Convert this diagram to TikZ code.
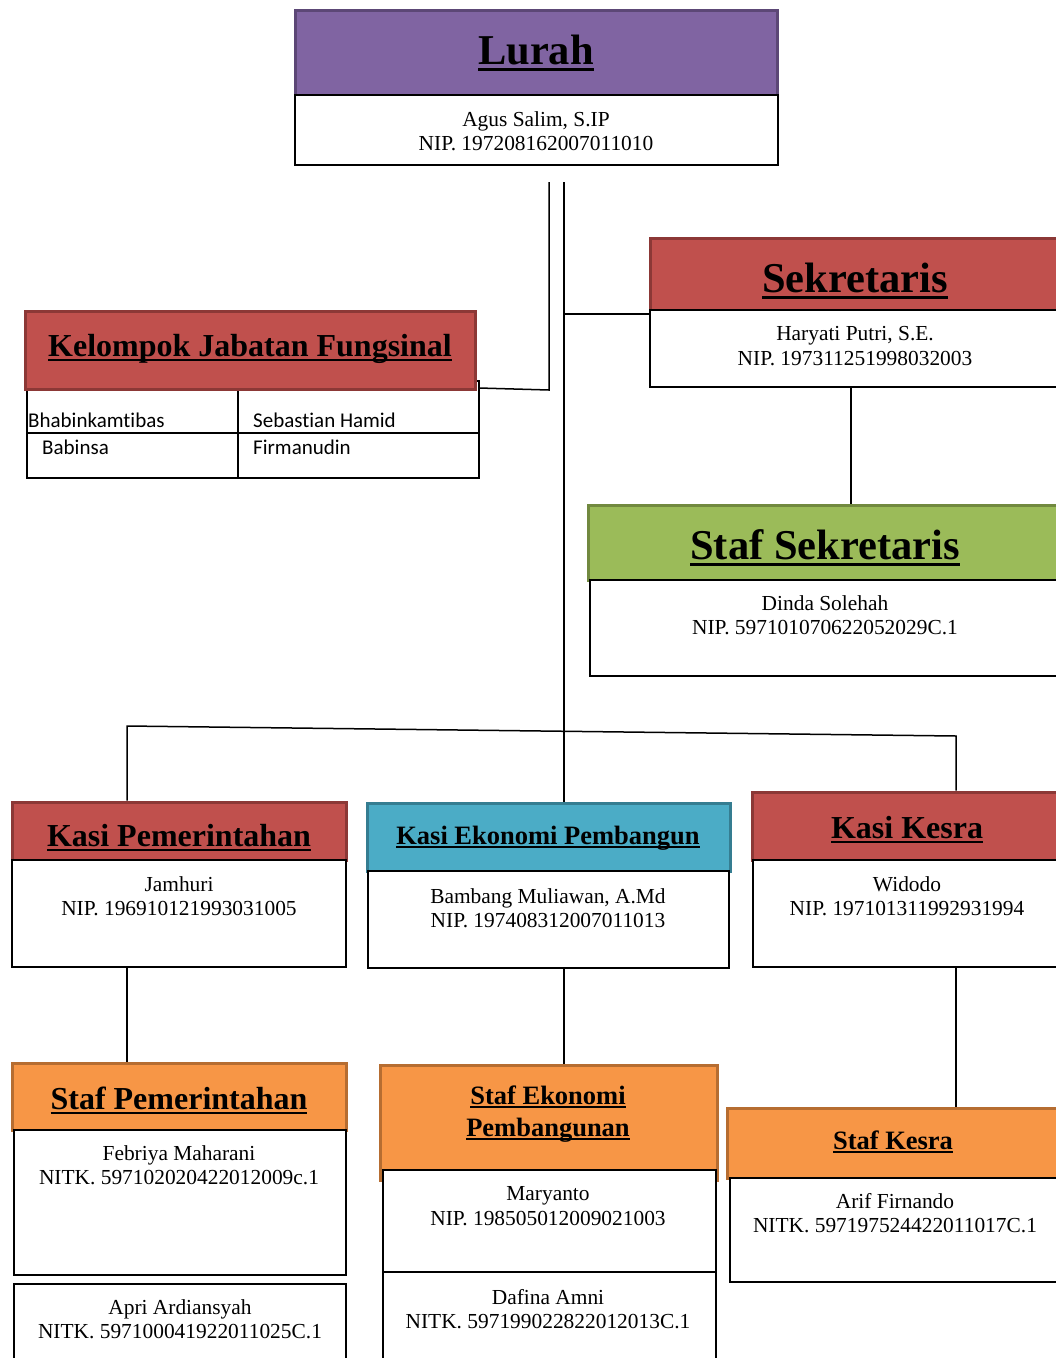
\documentclass[tikz,border=0pt]{standalone}
\usepackage{fontspec}
\setmainfont{Liberation Serif}
\newfontfamily\tabsans[Ligatures=NoCommon]{Carlito}
\definecolor{purF}{HTML}{8064A2}\definecolor{purD}{HTML}{5C4776}
\definecolor{redF}{HTML}{C0504D}\definecolor{redD}{HTML}{8C3836}
\definecolor{grnF}{HTML}{9BBB59}\definecolor{grnD}{HTML}{71893F}
\definecolor{bluF}{HTML}{4BACC6}\definecolor{bluD}{HTML}{357D91}
\definecolor{orgF}{HTML}{F79646}\definecolor{orgD}{HTML}{B66D31}
\newcommand\tul[1]{\setbox0=\hbox{#1}\rlap{\copy0}\rule[-0.16em]{\wd0}{0.075em}}
\newcommand\bx[6]{\node[#2, minimum width={#5-#3}, minimum height={#6-#4}] (#1) at ({(#3+#5)/2},{(#4+#6)/2}) {};}
\tikzset{
  hdr/.style={draw=#1D, fill=#1F, line width=3pt, inner sep=0pt, rectangle},
  bodybox/.style={draw=black, fill=white, line width=1.5pt, inner sep=0pt, rectangle},
  ttlA/.style={anchor=base, inner sep=0pt, font=\fontsize{42.5}{44}\selectfont\bfseries},
  ttlB/.style={anchor=base, inner sep=0pt, font=\fontsize{32}{34}\selectfont\bfseries},
  ttlC/.style={anchor=base, inner sep=0pt, font=\fontsize{26.5}{32}\selectfont\bfseries},
  btxt/.style={anchor=center, inner sep=0pt, align=center, font=\fontsize{21.4}{24.5}\selectfont},
  stxt/.style={anchor=base west, inner sep=0pt, font=\tabsans\fontsize{21}{24}\selectfont},
  conn/.style={line width=1.5pt, draw=black},
}
\begin{document}
\begin{tikzpicture}[x=1pt,y=-1pt]
\useasboundingbox (0,0) rectangle (1056,1358);
\clip (0,0) rectangle (1056,1358);
% Lurah
\bx{lurh}{hdr=pur}{295}{10}{777}{95}
\bx{lurb}{bodybox}{295}{95}{778}{165}
\node[ttlA] (lurt) at (536,64) {\tul{Lurah}};
\node[btxt] (lurx) at (536,131) {Agus Salim, S.IP\\NIP. 197208162007011010};
% Kelompok Jabatan Fungsional table
\node[draw=black, line width=1.5pt, inner sep=0pt, minimum width=452, minimum height=97] (kjft) at (253,429.5) {};
\coordinate (kjfcol) at (238,389);
\draw[conn] (kjfcol) -- (kjfcol |- kjft.south);
\draw[conn] (kjft.west |- 0,433) -- (kjft.east |- 0,433);
\node[stxt] (s1) at (28,427) {Bhabinkamtibas};
\node[stxt] (s2) at (42,454) {Babinsa};
\node[stxt] (s3) at (253,427) {Sebastian Hamid};
\node[stxt] (s4) at (253,454) {Firmanudin};
\bx{kjfh}{hdr=red}{25}{311}{475}{389}
\node[ttlB] (kjftt) at (250,356) {\tul{Kelompok Jabatan Fungsinal}};
% Sekretaris
\bx{sekh}{hdr=red}{650}{238}{1062}{310}
\bx{sekb}{bodybox}{650}{310}{1062}{387}
\node[ttlA] (sekt) at (855,292) {\tul{Sekretaris}};
\node[btxt] (sekx) at (855,346) {Haryati Putri, S.E.\\NIP. 197311251998032003};
% Staf Sekretaris
\bx{ssekh}{hdr=grn}{588}{505}{1062}{580}
\bx{ssekb}{bodybox}{590}{580}{1062}{676}
\node[ttlA] (ssekt) at (825,559) {\tul{Staf Sekretaris}};
\node[btxt] (ssekx) at (825,615) {Dinda Solehah\\NIP. 597101070622052029C.1};
% Kasi Pemerintahan
\bx{kpemh}{hdr=red}{12}{802}{346}{860}
\bx{kpemb}{bodybox}{12}{860}{346}{967}
\node[ttlB] (kpemt) at (179,846) {\tul{Kasi Pemerintahan}};
\node[btxt] (kpemx) at (179,896) {Jamhuri\\NIP. 196910121993031005};
% Kasi Ekonomi
\bx{kekoh}{hdr=blu}{367}{803}{730}{871}
\bx{kekob}{bodybox}{368}{871}{729}{968}
\node[ttlC] (kekot) at (548,844) {\tul{Kasi Ekonomi Pembangun}};
\node[btxt] (kekox) at (548,908) {Bambang Muliawan, A.Md\\NIP. 197408312007011013};
% Kasi Kesra
\bx{kkesh}{hdr=red}{752}{792}{1062}{860}
\bx{kkesb}{bodybox}{753}{860}{1062}{967}
\node[ttlB] (kkest) at (907,838) {\tul{Kasi Kesra}};
\node[btxt] (kkesx) at (907,896) {Widodo\\NIP. 197101311992931994};
% Staf Pemerintahan
\bx{spemh}{hdr=org}{12}{1063}{346}{1130}
\bx{spemb}{bodybox}{14}{1130}{346}{1275}
\bx{spemc}{bodybox}{14}{1284}{346}{1372}
\node[ttlB] (spemt) at (179,1109) {\tul{Staf Pemerintahan}};
\node[btxt] (spemx) at (179,1165) {Febriya Maharani\\NITK. 597102020422012009c.1};
\node[btxt] (spemy) at (180,1319) {Apri Ardiansyah\\NITK. 597100041922011025C.1};
% Staf Ekonomi
\bx{sekoh}{hdr=org}{380}{1065}{717}{1180}
\bx{sekob}{bodybox}{383}{1170}{716}{1272}
\bx{sekoc}{bodybox}{383}{1272}{716}{1372}
\node[ttlC] (sekot1) at (548,1104) {\tul{Staf Ekonomi}};
\node[ttlC] (sekot2) at (548,1136) {\tul{Pembangunan}};
\node[btxt] (sekox) at (548,1206) {Maryanto\\NIP. 198505012009021003};
\node[btxt] (sekoy) at (548,1309) {Dafina Amni\\NITK. 597199022822012013C.1};
% Staf Kesra
\bx{skesh}{hdr=org}{727}{1108}{1062}{1178}
\bx{skesb}{bodybox}{730}{1178}{1062}{1282}
\node[ttlC] (skest) at (893,1149) {\tul{Staf Kesra}};
\node[btxt] (skesx) at (895,1213) {Arif Firnando\\NITK. 597197524422011017C.1};
% connectors
\coordinate (l1) at (549,182);
\coordinate (l2) at (564,182);
\coordinate (l1b) at (549,390);
\coordinate (kjfend) at (479,388);
\draw[conn] (l1) -- (l1b) -- (kjfend);
\draw[conn] (l2) -- (l2 |- kekoh.north);
\coordinate (j1) at (564,314);
\draw[conn] (j1) -- (j1 -| sekh.west);
\coordinate (sx) at (851,0);
\draw[conn] (sx |- sekb.south) -- (sx |- ssekh.north);
\coordinate (b1) at (127,726);
\coordinate (b2) at (956,736);
\draw[conn] (b1 |- kpemh.north) -- (b1) -- (b2) -- (b2 |- kkesh.north);
\draw[conn] (b1 |- kpemb.south) -- (b1 |- spemh.north);
\draw[conn] (l2 |- kekob.south) -- (l2 |- sekoh.north);
\draw[conn] (b2 |- kkesb.south) -- (b2 |- skesh.north);
\end{tikzpicture}
\end{document}
